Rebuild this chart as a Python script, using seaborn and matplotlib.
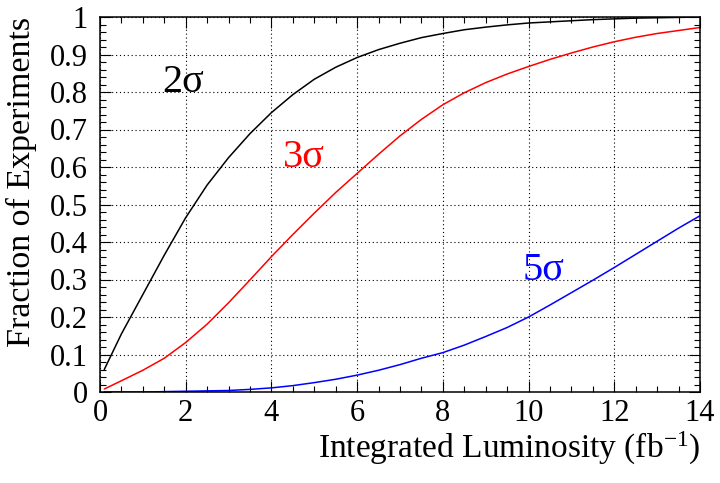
import numpy as np
import pandas as pd
import matplotlib
matplotlib.use("Agg")
import matplotlib.pyplot as plt
from matplotlib.ticker import MultipleLocator, FixedLocator
import seaborn as sns

# ---- data ----
lumi = [0.1, 0.5, 1.0, 1.5, 2.0, 2.5, 3.0, 3.5, 4.0, 4.5, 5.0, 5.5, 6.0, 6.5, 7.0,
        7.5, 8.0, 8.5, 9.0, 9.5, 10.0, 10.5, 11.0, 11.5, 12.0, 12.5, 13.0, 13.5, 14.0]
frac_2sigma = [0.06, 0.155, 0.26, 0.365, 0.465, 0.552, 0.625, 0.689, 0.745, 0.793,
               0.834, 0.866, 0.892, 0.913, 0.93, 0.945, 0.956, 0.966, 0.973, 0.979,
               0.984, 0.987, 0.990, 0.993, 0.995, 0.997, 0.998, 0.999, 1.0]
frac_3sigma = [0.008, 0.03, 0.058, 0.09, 0.132, 0.181, 0.238, 0.299, 0.361, 0.42,
               0.477, 0.532, 0.583, 0.634, 0.683, 0.727, 0.766, 0.798, 0.825, 0.848,
               0.868, 0.887, 0.904, 0.92, 0.934, 0.946, 0.956, 0.964, 0.972]
frac_5sigma = [0.0, 0.0, 0.0, 0.001, 0.002, 0.003, 0.004, 0.007, 0.011, 0.017,
               0.025, 0.034, 0.045, 0.058, 0.073, 0.09, 0.105, 0.125, 0.148, 0.172,
               0.20, 0.232, 0.265, 0.298, 0.332, 0.367, 0.402, 0.437, 0.47]
series_names = ["2σ", "3σ", "5σ"]
series_colors = ["#000000", "#ff0000", "#0000ff"]
x_ticks = [0, 2, 4, 6, 8, 10, 12, 14]
y_ticks = [0, 0.1, 0.2, 0.3, 0.4, 0.5, 0.6, 0.7, 0.8, 0.9, 1.0]
y_ticklabels = ["0", "0.1", "0.2", "0.3", "0.4", "0.5", "0.6", "0.7", "0.8", "0.9", "1"]
x_title = "Integrated Luminosity (fb$^{-1}$)"
y_title = "Fraction of Experiments"

df = pd.DataFrame({
    "lumi": lumi * 3,
    "frac": frac_2sigma + frac_3sigma + frac_5sigma,
    "series": [series_names[0]] * len(lumi) + [series_names[1]] * len(lumi)
              + [series_names[2]] * len(lumi),
})

sns.set_theme(style="ticks")
plt.rcParams["font.family"] = ["Liberation Serif", "DejaVu Serif"]
plt.rcParams["mathtext.fontset"] = "custom"
plt.rcParams["mathtext.rm"] = "Liberation Serif"
plt.rcParams["mathtext.default"] = "regular"
plt.rcParams["text.color"] = "black"
plt.rcParams["axes.labelcolor"] = "black"
plt.rcParams["xtick.color"] = "black"
plt.rcParams["ytick.color"] = "black"

fig = plt.figure(figsize=(7.2, 4.83), dpi=100)
fig.patch.set_facecolor("white")
ax = fig.add_axes([100 / 720, 1 - 392 / 483, 600 / 720, 375 / 483])
ax.set_facecolor("white")

sns.lineplot(data=df, x="lumi", y="frac", hue="series",
             palette=dict(zip(series_names, series_colors)),
             linewidth=1.1, legend=False, ax=ax, estimator=None, sort=True)

ax.set_xlim(0, 14)
ax.set_ylim(0, 1)
ax.xaxis.set_major_locator(FixedLocator(x_ticks))
ax.xaxis.set_minor_locator(MultipleLocator(0.5))
ax.yaxis.set_major_locator(FixedLocator(y_ticks))
ax.set_yticklabels(y_ticklabels)
ax.yaxis.set_minor_locator(MultipleLocator(0.02))

ax.grid(True, which="major", color="black", linestyle=(0, (1, 2.5)), linewidth=0.8)
for s in ax.spines.values():
    s.set_visible(True)
    s.set_linewidth(1.1)
    s.set_color("black")

ax.tick_params(which="both", direction="in", top=True, right=True,
               colors="black", width=0.8)
ax.tick_params(which="major", length=8)
ax.tick_params(which="minor", length=4)
ax.tick_params(axis="y", which="major", labelsize=22, pad=9)
ax.tick_params(axis="x", which="major", labelsize=22, pad=5)

ax.set_xlabel(x_title, fontsize=24, loc="right", color="black")
ax.set_ylabel(y_title, fontsize=24.5, loc="top", color="black")
ax.xaxis.set_label_coords(1.0, -0.10)
ax.yaxis.set_label_coords(-0.105, 1.0)

label_pos = [(1.45, 0.80), (4.27, 0.60), (9.86, 0.30)]
for name, col, (lx, ly) in zip(series_names, series_colors, label_pos):
    ax.text(lx, ly, name, color=col, fontsize=29, ha="left", va="baseline")

fig.savefig("out.png", dpi=100, facecolor="white")
